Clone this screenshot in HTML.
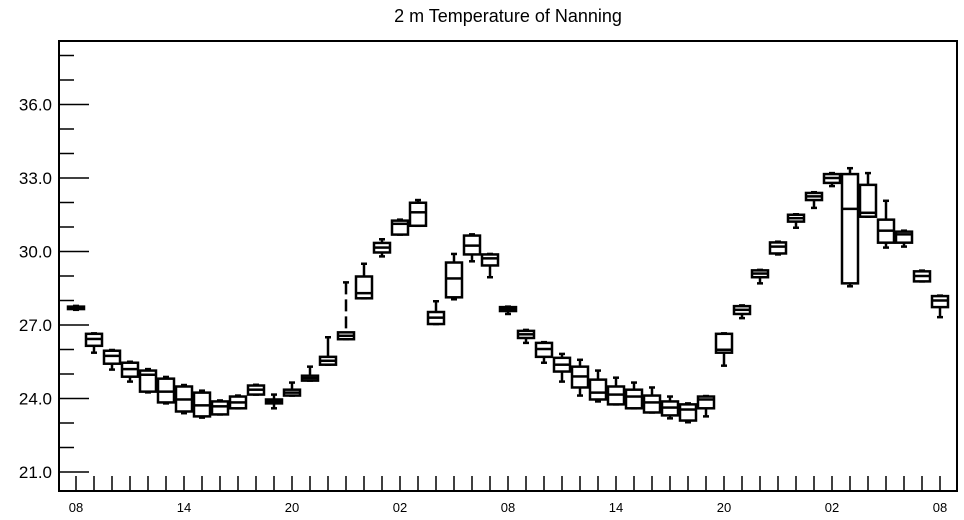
<!DOCTYPE html>
<html><head><meta charset="utf-8"><style>
html,body{margin:0;padding:0;background:#fff;}
svg{display:block;font-family:"Liberation Sans",sans-serif;}
</style></head><body>
<svg id="chart" width="964" height="520" viewBox="0 0 964 520">
<text x="508" y="22" font-size="18" text-anchor="middle">2 m Temperature of Nanning</text>
<g id="axes"></g>
<g id="boxes"></g>
<rect x="59" y="41" width="898" height="450" fill="none" stroke="#000" stroke-width="2"/>
</svg>
<script>
const hourLabels = ["08","14","20","02","08","14","20","02","08"];
const yTicks = [21,24,27,30,33,36];
const mins = [27.62,25.87,25.18,24.69,24.25,23.8,23.4,23.22,23.35,23.6,24.16,23.6,24.12,24.73,25.38,26.42,28.09,29.8,30.69,31.05,27.04,28.05,29.6,28.95,27.45,26.27,25.46,24.69,24.12,23.88,23.76,23.6,23.43,23.19,23.03,23.27,25.34,27.28,28.7,29.88,30.97,31.78,32.67,28.58,31.42,30.16,30.2,28.78,27.32];
const q1s = [27.65,26.15,25.42,24.89,24.28,23.84,23.47,23.27,23.35,23.6,24.16,23.8,24.12,24.73,25.38,26.42,28.09,29.96,30.69,31.05,27.04,28.13,29.88,29.43,27.57,26.47,25.7,25.1,24.45,23.96,23.76,23.6,23.43,23.31,23.1,23.6,25.87,27.45,28.95,29.92,31.22,32.1,32.8,28.7,31.42,30.36,30.36,28.78,27.73];
const medians = [27.7,26.43,25.74,25.2,24.97,24.28,23.96,23.72,23.68,23.84,24.36,23.88,24.24,24.83,25.54,26.56,28.3,30.16,31.13,31.6,27.3,28.9,30.24,29.72,27.65,26.62,26.02,25.38,24.9,24.24,24.16,24.08,23.84,23.63,23.55,23.96,25.99,27.62,29.1,30.2,31.36,32.25,33.0,31.74,31.58,30.85,30.7,29.0,28.0];
const q3s = [27.75,26.64,25.95,25.46,25.14,24.81,24.49,24.24,23.88,24.08,24.53,23.96,24.36,24.93,25.7,26.7,28.98,30.35,31.26,31.99,27.53,29.55,30.65,29.88,27.73,26.76,26.27,25.66,25.3,24.77,24.49,24.36,24.12,23.88,23.76,24.08,26.64,27.77,29.23,30.37,31.5,32.39,33.16,33.16,32.72,31.3,30.81,29.19,28.18];
const maxs = [27.78,26.66,25.98,25.5,25.2,24.88,24.55,24.32,23.92,24.12,24.56,24.16,24.65,25.3,26.5,28.74,29.5,30.5,31.3,32.1,27.97,29.9,30.7,29.9,27.75,26.8,26.3,25.82,25.58,25.14,24.85,24.65,24.45,24.08,23.8,24.1,26.66,27.8,29.25,30.4,31.52,32.42,33.2,33.4,33.2,32.07,30.85,29.22,28.2];

const NS="http://www.w3.org/2000/svg";
function yScale(v){return 472-(v-21)*24.5;}
function xScale(i){return 76+i*18;}
function mk(tag,attrs,parent){const e=document.createElementNS(NS,tag);for(const k in attrs)e.setAttribute(k,attrs[k]);parent.appendChild(e);return e;}
const axes=document.getElementById('axes');
for(let v=21;v<=38;v++){
  const major=yTicks.indexOf(v)>=0;
  const t=mk('line',{x1:59,x2:major?89:74,y1:yScale(v),y2:yScale(v),stroke:'#000','stroke-width':1.5},axes);
  
  
}
yTicks.forEach(v=>{
  const t=mk('text',{x:52,y:yScale(v)+6,'font-size':17,'text-anchor':'end'},axes);
  t.textContent=v.toFixed(1);
  
  
});
for(let i=0;i<medians.length;i++){
  const t=mk('line',{x1:xScale(i),x2:xScale(i),y1:491,y2:476,stroke:'#000','stroke-width':1.5},axes);
  
  
}
hourLabels.forEach((s,k)=>{
  const t=mk('text',{x:xScale(k*6),y:512,'font-size':13,'text-anchor':'middle'},axes);
  t.textContent=s;
  
  
});
const bg=document.getElementById('boxes');
for(let i=0;i<medians.length;i++){
  const g=mk('g',{stroke:'#000','stroke-width':2.5,fill:'none'},bg);
  
  
  const x=xScale(i),hw=8;
  const yq1=yScale(q1s[i]),yq3=yScale(q3s[i]);
  const up=mk('line',{x1:x,x2:x,y1:yScale(maxs[i]),y2:yq3},g);
  if(yq3-yScale(maxs[i])>40) up.setAttribute('stroke-dasharray','12 5');
  mk('line',{x1:x,x2:x,y1:yq1,y2:yScale(mins[i])},g);
  mk('line',{x1:x-3,x2:x+3,y1:yScale(maxs[i]),y2:yScale(maxs[i])},g);
  mk('line',{x1:x-3,x2:x+3,y1:yScale(mins[i]),y2:yScale(mins[i])},g);
  mk('rect',{x:x-hw,y:yq3,width:2*hw,height:Math.max(1,yq1-yq3),fill:'#fff'},g);
  mk('line',{x1:x-hw,x2:x+hw,y1:yScale(medians[i]),y2:yScale(medians[i])},g);
}
</script>
</body></html>
